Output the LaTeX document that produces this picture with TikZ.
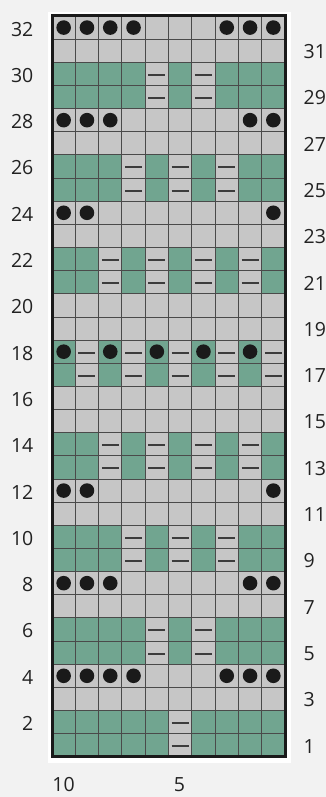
\documentclass[tikz,border=0pt]{standalone}
\usepackage{fontspec}
\setmainfont{Open Sans}
\definecolor{cbg}{HTML}{F2F2F2}
\definecolor{cgray}{HTML}{C6C6C6}
\definecolor{cgreen}{HTML}{71A590}
\definecolor{cline}{HTML}{4A4A4A}
\definecolor{cdark}{HTML}{1A1A1A}
\definecolor{ctext}{HTML}{222222}
\begin{document}
\def\cw{23.3}
\def\ch{23.15}
\def\xo{52}
\def\yo{16}
\begin{tikzpicture}[x=1pt,y=-1pt,
  gridline/.style={draw=cline,line width=0.9pt},
  border/.style={draw=cdark,line width=3pt},
  dashmark/.style={draw=cdark!85,line width=2pt},
  dotmark/.style={fill=cdark},
  lab/.style={font=\fontsize{19.5}{22}\selectfont,text=ctext,inner sep=0pt}]
\fill[cbg] (0,0) rectangle (326,797);
\useasboundingbox (0,0) rectangle (326,797);
\fill[white] (48,12) rectangle (291,763);
% 0 gray, 1 green, 2 gray+dash, 3 gray+dot, 4 green+dot
\foreach \row [count=\r from 0] in {
 {3,3,3,3,0,0,0,3,3,3},
 {0,0,0,0,0,0,0,0,0,0},
 {1,1,1,1,2,1,2,1,1,1},
 {1,1,1,1,2,1,2,1,1,1},
 {3,3,3,0,0,0,0,0,3,3},
 {0,0,0,0,0,0,0,0,0,0},
 {1,1,1,2,1,2,1,2,1,1},
 {1,1,1,2,1,2,1,2,1,1},
 {3,3,0,0,0,0,0,0,0,3},
 {0,0,0,0,0,0,0,0,0,0},
 {1,1,2,1,2,1,2,1,2,1},
 {1,1,2,1,2,1,2,1,2,1},
 {0,0,0,0,0,0,0,0,0,0},
 {0,0,0,0,0,0,0,0,0,0},
 {4,2,4,2,4,2,4,2,4,2},
 {1,2,1,2,1,2,1,2,1,2},
 {0,0,0,0,0,0,0,0,0,0},
 {0,0,0,0,0,0,0,0,0,0},
 {1,1,2,1,2,1,2,1,2,1},
 {1,1,2,1,2,1,2,1,2,1},
 {3,3,0,0,0,0,0,0,0,3},
 {0,0,0,0,0,0,0,0,0,0},
 {1,1,1,2,1,2,1,2,1,1},
 {1,1,1,2,1,2,1,2,1,1},
 {3,3,3,0,0,0,0,0,3,3},
 {0,0,0,0,0,0,0,0,0,0},
 {1,1,1,1,2,1,2,1,1,1},
 {1,1,1,1,2,1,2,1,1,1},
 {3,3,3,3,0,0,0,3,3,3},
 {0,0,0,0,0,0,0,0,0,0},
 {1,1,1,1,1,2,1,1,1,1},
 {1,1,1,1,1,2,1,1,1,1}}{
  \foreach \c [count=\i from 0] in \row {
    \pgfmathsetmacro\xa{\xo+\i*\cw}
    \pgfmathsetmacro\ya{\yo+\r*\ch}
    \pgfmathsetmacro\xc{\xa+0.5*\cw}
    \pgfmathsetmacro\yc{\ya+0.5*\ch}
    \ifcase\c
      \fill[cgray] (\xa,\ya) rectangle ++(\cw,\ch);
    \or
      \fill[cgreen] (\xa,\ya) rectangle ++(\cw,\ch);
    \or
      \fill[cgray] (\xa,\ya) rectangle ++(\cw,\ch);
      \draw[dashmark] (\xc-8.5,\yc+1) -- (\xc+8.5,\yc+1);
    \or
      \fill[cgray] (\xa,\ya) rectangle ++(\cw,\ch);
      \fill[dotmark] (\xc,\yc) circle (7.3);
    \or
      \fill[cgreen] (\xa,\ya) rectangle ++(\cw,\ch);
      \fill[dotmark] (\xc,\yc) circle (7.3);
    \fi
  }
}
\foreach \i in {1,...,9}
  \draw[gridline] ({\xo+\i*\cw},\yo) -- ++(0,{32*\ch});
\foreach \j in {1,...,31}
  \draw[gridline] (\xo,{\yo+\j*\ch}) -- ++({10*\cw},0);
\draw[border] (\xo,\yo) rectangle ++({10*\cw},{32*\ch});
\foreach \n in {2,4,...,32}
  \node[lab,anchor=east] (L\n) at (33.5,{\yo+(32-\n+0.5)*\ch+1.5}) {\n};
\foreach \n in {1,3,...,31}
  \node[lab,anchor=west] (R\n) at (303.5,{\yo+(32-\n+0.5)*\ch+1}) {\n};
\node[lab] (C10) at (63.6,785) {10};
\node[lab] (C5) at (179.5,785) {5};
\end{tikzpicture}
\end{document}
